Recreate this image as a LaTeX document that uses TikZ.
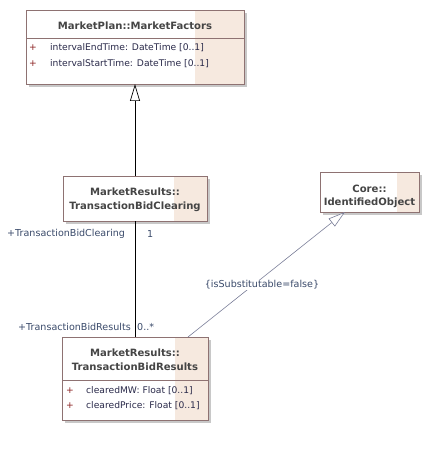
\documentclass[tikz,border=0pt]{standalone}
\usepackage{fontspec}
\setmainfont{DejaVu Sans}
\usetikzlibrary{arrows.meta}
\definecolor{bordc}{HTML}{8E7272}
\definecolor{shadec}{HTML}{F6E9DF}
\definecolor{shadowc}{HTML}{C8C8C8}
\definecolor{headc}{HTML}{454545}
\definecolor{plusc}{HTML}{8B2020}
\definecolor{attrc}{HTML}{2A2A4A}
\definecolor{lblc}{HTML}{3A4A6A}
\definecolor{realc}{HTML}{7A7E98}
\tikzset{
  hdr/.style={font=\fontsize{10.1}{12}\selectfont\bfseries, text=headc, inner sep=0pt},
  attr/.style={font=\fontsize{9.2}{11}\selectfont, text=attrc, anchor=west, inner sep=0pt},
  plus/.style={font=\fontsize{9.2}{11}\selectfont, text=plusc, inner sep=0pt},
  lbl/.style={font=\fontsize{9.6}{11}\selectfont, text=lblc, inner sep=0pt},
  boxframe/.style={draw=bordc, line width=0.8pt},
  gen/.style={-{Triangle[open, length=17bp, width=10bp, fill=white]}, black, line width=0.7pt},
  real/.style={-{Triangle[open, length=17bp, width=10bp, fill=white]}, realc, line width=0.6pt},
  assoc/.style={black, line width=0.7pt},
}
\newcommand{\umlbox}[6]{% name, x1, y1, x2, y2, shadex
  \fill[shadowc] (#2+3,#3+3) rectangle (#4+3,#5+3);
  \fill[white] (#2,#3) rectangle (#4,#5);
  \fill[shadec] (#6,#3) rectangle (#4,#5);
  \draw[boxframe] (#2,#3) rectangle (#4,#5);
  \coordinate (#1-nw) at (#2,#3);
  \coordinate (#1-se) at (#4,#5);
}
\begin{document}
\begin{tikzpicture}[x=1bp,y=-1bp]
\useasboundingbox (0,0) rectangle (430,452);
% box 1
\umlbox{mf}{26}{10}{244}{84}{195}
\draw[bordc, line width=0.6pt] (26,38) -- (244,38);
\node[hdr] (mft) at (135,26) {MarketPlan::MarketFactors};
\node[plus] (mfp1) at (33,48) {+};
\node[attr] (mfa1) at (50,48) {intervalEndTime: DateTime [0..1]};
\node[plus] (mfp2) at (33,64) {+};
\node[attr] (mfa2) at (50,64) {intervalStartTime: DateTime [0..1]};
\coordinate (mfb) at (135,84);
% box 2
\umlbox{tbc}{63}{176}{207}{221}{174}
\node[hdr] (tbct1) at (135,192) {MarketResults::};
\node[hdr] (tbct2) at (135,207) {TransactionBidClearing};
\coordinate (tbctop) at (135,176);
\coordinate (tbcbot) at (135,221);
% box 3
\umlbox{tbr}{62}{337}{208}{420}{175}
\draw[bordc, line width=0.6pt] (62,380) -- (208,380);
\node[hdr] (tbrt1) at (135,353) {MarketResults::};
\node[hdr] (tbrt2) at (135,367) {TransactionBidResults};
\node[plus] (tbrp1) at (70,391) {+};
\node[attr] (tbra1) at (86,391) {clearedMW: Float [0..1]};
\node[plus] (tbrp2) at (70,406) {+};
\node[attr] (tbra2) at (86,406) {clearedPrice: Float [0..1]};
\coordinate (tbrtop) at (135,337);
\coordinate (tbrreal) at (188,337);
% box 4
\umlbox{io}{320}{172}{419}{212}{397}
\node[hdr] (iot1) at (369.5,189) {Core::};
\node[hdr] (iot2) at (369.5,203) {IdentifiedObject};
\coordinate (iobot) at (345,212);
% connectors
\draw[gen] (tbctop) -- (mfb);
\draw[assoc] (tbcbot) -- (tbrtop);
\draw[real] (tbrreal) -- (iobot);
\node[lbl, fill=white, inner sep=1pt] (subst) at (262,285) {\{isSubstitutable=false\}};
\node[lbl, anchor=west] (l1) at (7,234) {+TransactionBidClearing};
\node[lbl, anchor=west] (l2) at (147,234) {1};
\node[lbl, anchor=west] (l3) at (18,327) {+TransactionBidResults};
\node[lbl, anchor=west] (l4) at (137,327) {0..*};
\end{tikzpicture}
\end{document}
